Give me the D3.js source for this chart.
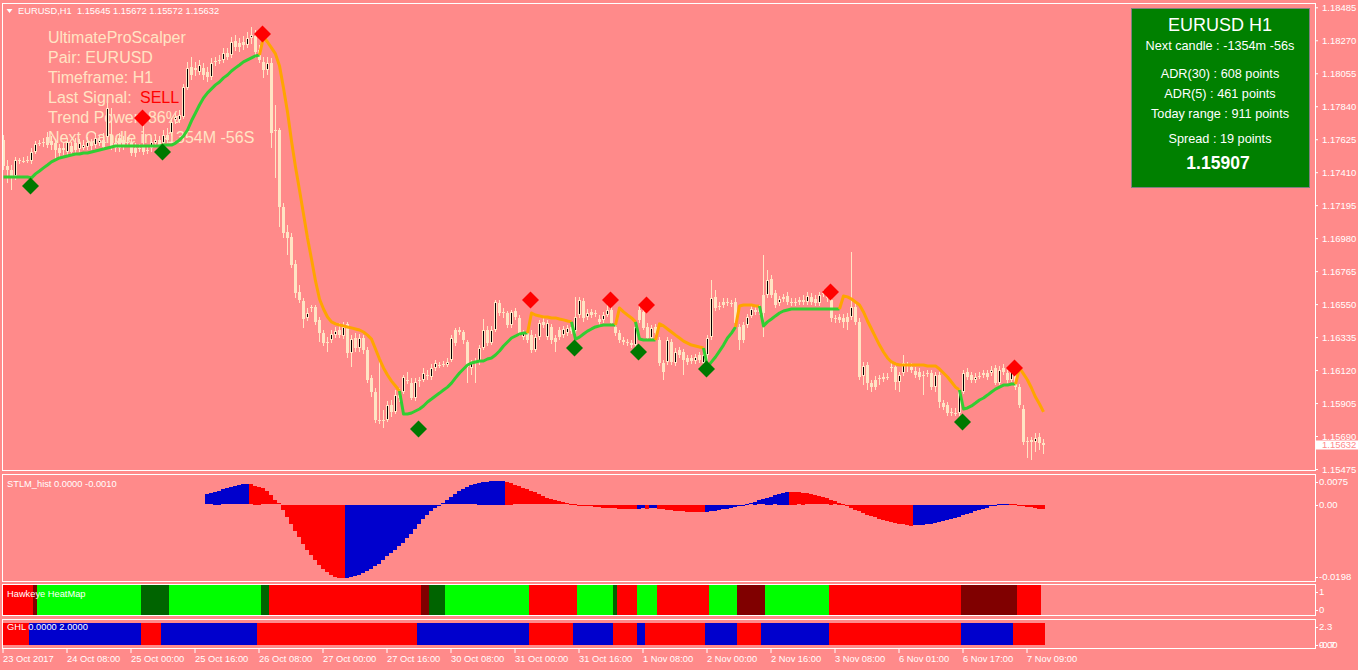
<!DOCTYPE html>
<html><head><meta charset="utf-8">
<script src="https://cdn.jsdelivr.net/npm/d3@7"></script>
<style>html,body{margin:0;padding:0;overflow:hidden;background:#ff8a8a}svg text{font-family:"Liberation Sans",Arial,sans-serif}</style>
</head><body><svg id="c" width="1358" height="670"></svg>
<script>
// ---------------- DATA ----------------
const opens=[
1.17620,1.17451,1.17425,1.17386,1.17490,1.17483,1.17483,1.17483,1.17542,1.17594,
1.17600,1.17639,1.17613,1.17600,1.17568,1.17568,1.17542,1.17581,1.17600,1.17561,
1.17568,1.17574,1.17600,1.17587,1.17600,1.17620,1.17639,1.17652,1.17600,1.17633,
1.17620,1.17607,1.17600,1.17568,1.17561,1.17574,1.17555,1.17568,1.17600,1.17620,
1.17600,1.17652,1.17665,1.17751,1.17751,1.17770,1.17959,1.18096,1.18090,1.18064,
1.18090,1.18064,1.18031,1.18129,1.18135,1.18142,1.18187,1.18174,1.18265,1.18252,
1.18259,1.18239,1.18285,1.18298,1.18207,1.18129,1.18077,1.18122,1.17678,1.17685,
1.17183,1.17020,1.16987,1.16812,1.16629,1.16570,1.16460,1.16531,1.16531,1.16447,
1.16361,1.16303,1.16316,1.16348,1.16381,1.16342,1.16421,1.16231,1.16329,1.16264,
1.16329,1.16251,1.16069,1.15977,1.15795,1.15795,1.15795,1.15892,1.15847,1.15957,
1.15977,1.16055,1.16035,1.15938,1.16055,1.16055,1.16088,1.16075,1.16134,1.16153,
1.16160,1.16153,1.16186,1.16381,1.16381,1.16368,1.16303,1.16134,1.16173,1.16173,
1.16264,1.16381,1.16296,1.16381,1.16557,1.16499,1.16492,1.16414,1.16505,1.16460,
1.16335,1.16361,1.16348,1.16251,1.16335,1.16434,1.16335,1.16401,1.16329,1.16381,
1.16348,1.16361,1.16401,1.16374,1.16479,1.16570,1.16466,1.16499,1.16492,1.16453,
1.16447,1.16479,1.16512,1.16401,1.16361,1.16316,1.16303,1.16296,1.16283,1.16512,
1.16499,1.16401,1.16329,1.16401,1.16316,1.16166,1.16173,1.16303,1.16166,1.16251,
1.16238,1.16199,1.16199,1.16179,1.16218,1.16166,1.16218,1.16335,1.16597,1.16538,
1.16564,1.16564,1.16557,1.16564,1.16401,1.16414,1.16414,1.16473,1.16512,1.16525,
1.16610,1.16610,1.16714,1.16622,1.16557,1.16583,1.16603,1.16564,1.16564,1.16564,
1.16577,1.16564,1.16597,1.16583,1.16557,1.16622,1.16622,1.16577,1.16460,1.16466,
1.16460,1.16466,1.16466,1.16531,1.16434,1.16082,1.16153,1.16035,1.16055,1.16069,
1.16062,1.16075,1.16140,1.16140,1.16042,1.16101,1.16153,1.16140,1.16114,1.16108,
1.16088,1.16101,1.16101,1.16009,1.16088,1.15905,1.15892,1.15847,1.15840,1.15840,
1.15977,1.16108,1.16088,1.16055,1.16082,1.16101,1.16101,1.16101,1.16134,1.16035,
1.16134,1.16101,1.16055,1.16101,1.16009,1.15866,1.15658,1.15664,1.15651,1.15684,
1.15645];
const highs=[
1.17652,1.17490,1.17457,1.17509,1.17503,1.17509,1.17516,1.17568,1.17613,1.17620,
1.17633,1.17672,1.17646,1.17626,1.17594,1.17607,1.17633,1.17607,1.17633,1.17626,
1.17620,1.17639,1.17626,1.17665,1.17652,1.17665,1.17861,1.17829,1.17633,1.17665,
1.17646,1.17639,1.17626,1.17600,1.17594,1.17712,1.17587,1.17633,1.17652,1.17646,
1.17685,1.17699,1.17764,1.17796,1.17816,1.17985,1.18129,1.18161,1.18129,1.18142,
1.18122,1.18096,1.18155,1.18161,1.18174,1.18220,1.18220,1.18291,1.18304,1.18285,
1.18298,1.18324,1.18357,1.18337,1.18239,1.18161,1.18161,1.18155,1.17848,1.17699,
1.17209,1.17066,1.17013,1.16838,1.16674,1.16590,1.16525,1.16544,1.16544,1.16466,
1.16381,1.16335,1.16381,1.16401,1.16427,1.16434,1.16434,1.16348,1.16361,1.16355,
1.16348,1.16270,1.16088,1.16003,1.16186,1.15860,1.15918,1.15925,1.15990,1.16003,
1.16088,1.16108,1.16069,1.16069,1.16075,1.16134,1.16121,1.16160,1.16186,1.16173,
1.16179,1.16199,1.16348,1.16394,1.16401,1.16381,1.16316,1.16186,1.16199,1.16283,
1.16453,1.16408,1.16408,1.16577,1.16577,1.16525,1.16505,1.16512,1.16525,1.16479,
1.16381,1.16381,1.16381,1.16355,1.16447,1.16460,1.16447,1.16421,1.16348,1.16401,
1.16408,1.16414,1.16421,1.16597,1.16597,1.16590,1.16518,1.16518,1.16512,1.16479,
1.16499,1.16544,1.16544,1.16427,1.16381,1.16335,1.16322,1.16316,1.16427,1.16544,
1.16525,1.16427,1.16414,1.16421,1.16335,1.16186,1.16335,1.16322,1.16264,1.16270,
1.16258,1.16218,1.16218,1.16225,1.16238,1.16238,1.16348,1.16707,1.16642,1.16564,
1.16590,1.16590,1.16577,1.16590,1.16421,1.16434,1.16486,1.16538,1.16531,1.16544,
1.16870,1.16773,1.16740,1.16642,1.16603,1.16616,1.16629,1.16590,1.16590,1.16597,
1.16610,1.16629,1.16622,1.16610,1.16629,1.16642,1.16642,1.16597,1.16479,1.16486,
1.16486,1.16492,1.16890,1.16557,1.16460,1.16173,1.16173,1.16055,1.16082,1.16088,
1.16101,1.16101,1.16173,1.16160,1.16108,1.16218,1.16173,1.16166,1.16140,1.16134,
1.16114,1.16121,1.16121,1.16108,1.16108,1.15925,1.15912,1.15873,1.15873,1.16003,
1.16121,1.16134,1.16108,1.16101,1.16108,1.16121,1.16121,1.16147,1.16153,1.16147,
1.16160,1.16121,1.16153,1.16134,1.16029,1.15892,1.15684,1.15684,1.15710,1.15710,
1.15672];
const lows=[
1.17425,1.17339,1.17294,1.17359,1.17464,1.17470,1.17470,1.17464,1.17529,1.17581,
1.17574,1.17568,1.17555,1.17490,1.17503,1.17522,1.17522,1.17516,1.17529,1.17542,
1.17555,1.17555,1.17555,1.17568,1.17581,1.17555,1.17620,1.17555,1.17542,1.17542,
1.17555,1.17574,1.17516,1.17509,1.17542,1.17522,1.17529,1.17542,1.17581,1.17561,
1.17581,1.17600,1.17646,1.17725,1.17731,1.17757,1.17946,1.18011,1.18038,1.18044,
1.18011,1.17998,1.18011,1.18103,1.18116,1.18122,1.18142,1.18155,1.18200,1.18194,
1.18207,1.18220,1.18246,1.18155,1.18122,1.18025,1.18044,1.17568,1.17373,1.17053,
1.16981,1.16870,1.16786,1.16590,1.16557,1.16395,1.16440,1.16499,1.16414,1.16303,
1.16277,1.16238,1.16296,1.16329,1.16329,1.16322,1.16199,1.16140,1.16238,1.16238,
1.16225,1.16035,1.15944,1.15775,1.15769,1.15743,1.15782,1.15814,1.15834,1.15912,
1.15964,1.16029,1.15925,1.15918,1.16009,1.16042,1.16055,1.16055,1.16114,1.16134,
1.16140,1.16140,1.16173,1.16277,1.16348,1.16290,1.16035,1.16088,1.16035,1.16153,
1.16251,1.16277,1.16283,1.16368,1.16473,1.16460,1.16395,1.16395,1.16447,1.16342,
1.16316,1.16296,1.16231,1.16238,1.16316,1.16395,1.16316,1.16290,1.16238,1.16316,
1.16329,1.16342,1.16355,1.16355,1.16460,1.16434,1.16447,1.16460,1.16466,1.16414,
1.16427,1.16466,1.16408,1.16342,1.16296,1.16283,1.16277,1.16264,1.16270,1.16427,
1.16381,1.16309,1.16309,1.16342,1.16147,1.16055,1.16153,1.16153,1.16147,1.16199,
1.16088,1.16153,1.16160,1.16160,1.16166,1.16153,1.16140,1.16316,1.16505,1.16512,
1.16525,1.16538,1.16531,1.16408,1.16251,1.16296,1.16395,1.16460,1.16479,1.16479,
1.16335,1.16590,1.16590,1.16525,1.16538,1.16564,1.16544,1.16538,1.16538,1.16544,
1.16544,1.16544,1.16544,1.16538,1.16538,1.16597,1.16564,1.16434,1.16427,1.16427,
1.16395,1.16381,1.16447,1.16414,1.16055,1.16022,1.15990,1.15977,1.15990,1.16022,
1.16042,1.16055,1.16108,1.15990,1.15977,1.16082,1.16108,1.16101,1.16069,1.16055,
1.15957,1.16075,1.15990,1.15977,1.15873,1.15860,1.15821,1.15821,1.15821,1.15821,
1.15964,1.16055,1.16035,1.16035,1.16062,1.16069,1.16055,1.16082,1.16022,1.16022,
1.16088,1.16035,1.16042,1.15990,1.15873,1.15631,1.15547,1.15534,1.15586,1.15599,
1.15572];
const closes=[
1.17451,1.17425,1.17386,1.17490,1.17483,1.17480,1.17490,1.17542,1.17594,1.17600,
1.17607,1.17587,1.17587,1.17555,1.17535,1.17555,1.17607,1.17542,1.17555,1.17600,
1.17587,1.17607,1.17581,1.17633,1.17620,1.17574,1.17829,1.17574,1.17568,1.17568,
1.17574,1.17600,1.17535,1.17535,1.17568,1.17542,1.17552,1.17607,1.17620,1.17587,
1.17652,1.17620,1.17738,1.17770,1.17783,1.17965,1.18090,1.18044,1.18077,1.18109,
1.18044,1.18031,1.18122,1.18135,1.18142,1.18187,1.18161,1.18259,1.18226,1.18226,
1.18239,1.18285,1.18304,1.18194,1.18142,1.18077,1.18122,1.17665,1.17685,1.17183,
1.17013,1.16981,1.16805,1.16622,1.16577,1.16453,1.16492,1.16525,1.16434,1.16361,
1.16296,1.16296,1.16355,1.16374,1.16348,1.16401,1.16231,1.16322,1.16264,1.16329,
1.16251,1.16055,1.15977,1.15795,1.15788,1.15792,1.15892,1.15847,1.15957,1.15938,
1.16075,1.16048,1.15938,1.16042,1.16048,1.16101,1.16082,1.16134,1.16166,1.16150,
1.16157,1.16173,1.16329,1.16296,1.16368,1.16316,1.16140,1.16166,1.16170,1.16264,
1.16381,1.16296,1.16381,1.16564,1.16492,1.16492,1.16414,1.16499,1.16466,1.16361,
1.16361,1.16316,1.16251,1.16335,1.16427,1.16414,1.16427,1.16316,1.16303,1.16335,
1.16388,1.16395,1.16374,1.16466,1.16577,1.16460,1.16492,1.16479,1.16486,1.16434,
1.16479,1.16512,1.16427,1.16361,1.16316,1.16303,1.16296,1.16283,1.16401,1.16447,
1.16395,1.16329,1.16395,1.16361,1.16166,1.16108,1.16316,1.16173,1.16238,1.16218,
1.16186,1.16173,1.16179,1.16205,1.16186,1.16218,1.16329,1.16590,1.16525,1.16535,
1.16544,1.16557,1.16551,1.16427,1.16316,1.16316,1.16466,1.16518,1.16499,1.16499,
1.16492,1.16707,1.16610,1.16544,1.16583,1.16597,1.16564,1.16557,1.16557,1.16577,
1.16564,1.16603,1.16564,1.16557,1.16610,1.16616,1.16590,1.16460,1.16453,1.16447,
1.16434,1.16434,1.16531,1.16434,1.16075,1.16147,1.16035,1.16009,1.16009,1.16062,
1.16075,1.16072,1.16137,1.16042,1.16088,1.16166,1.16150,1.16121,1.16088,1.16075,
1.16085,1.16098,1.16009,1.16088,1.15912,1.15879,1.15840,1.15840,1.15837,1.15977,
1.16101,1.16075,1.16055,1.16075,1.16079,1.16088,1.16075,1.16121,1.16035,1.16121,
1.16108,1.16055,1.16134,1.16009,1.15892,1.15651,1.15648,1.15651,1.15677,1.15645,
1.15632];
// UltimateProScalper trend line (one value per bar) and its direction runs (1 = up/green, -1 = down/orange)
const trendLine=[
1.17379,1.17379,1.17379,1.17379,1.17379,1.17379,1.17379,1.17373,1.17399,1.17418,
1.17438,1.17457,1.17477,1.17490,1.17503,1.17509,1.17516,1.17522,1.17529,1.17529,
1.17535,1.17535,1.17542,1.17548,1.17555,1.17561,1.17568,1.17574,1.17581,1.17581,
1.17581,1.17581,1.17581,1.17581,1.17581,1.17581,1.17581,1.17581,1.17581,1.17581,
1.17587,1.17587,1.17587,1.17600,1.17620,1.17646,1.17685,1.17745,1.17796,1.17848,
1.17894,1.17927,1.17953,1.17979,1.17998,1.18025,1.18044,1.18070,1.18090,1.18109,
1.18129,1.18142,1.18155,1.18168,1.18174,1.18291,1.18259,1.18220,1.18181,1.18103,
1.17959,1.17803,1.17613,1.17444,1.17294,1.17138,1.16981,1.16844,1.16701,1.16583,
1.16518,1.16466,1.16434,1.16421,1.16414,1.16408,1.16401,1.16395,1.16388,1.16381,
1.16368,1.16348,1.16322,1.16257,1.16192,1.16134,1.16088,1.16048,1.16016,1.15984,
1.15834,1.15834,1.15840,1.15853,1.15866,1.15886,1.15912,1.15931,1.15951,1.15970,
1.15990,1.16009,1.16035,1.16069,1.16101,1.16127,1.16153,1.16166,1.16173,1.16179,
1.16179,1.16192,1.16199,1.16218,1.16244,1.16277,1.16303,1.16329,1.16342,1.16355,
1.16361,1.16361,1.16492,1.16479,1.16473,1.16466,1.16466,1.16460,1.16460,1.16453,
1.16447,1.16440,1.16434,1.16322,1.16335,1.16355,1.16374,1.16388,1.16401,1.16408,
1.16414,1.16414,1.16414,1.16414,1.16525,1.16499,1.16479,1.16460,1.16434,1.16322,
1.16316,1.16316,1.16316,1.16316,1.16421,1.16408,1.16388,1.16368,1.16348,1.16329,
1.16309,1.16296,1.16283,1.16277,1.16270,1.16264,1.16140,1.16173,1.16205,1.16244,
1.16283,1.16329,1.16361,1.16401,1.16538,1.16544,1.16544,1.16544,1.16538,1.16538,
1.16408,1.16434,1.16453,1.16473,1.16492,1.16505,1.16512,1.16518,1.16518,1.16518,
1.16518,1.16518,1.16518,1.16518,1.16518,1.16518,1.16518,1.16518,1.16518,1.16518,
1.16603,1.16597,1.16583,1.16564,1.16544,1.16499,1.16440,1.16388,1.16335,1.16283,
1.16238,1.16199,1.16173,1.16160,1.16153,1.16153,1.16153,1.16153,1.16153,1.16153,
1.16153,1.16147,1.16147,1.16147,1.16127,1.16101,1.16075,1.16042,1.16009,1.15990,
1.15866,1.15873,1.15886,1.15905,1.15925,1.15938,1.15957,1.15977,1.15996,1.16009,
1.16022,1.16022,1.16029,1.16029,1.16134,1.16095,1.16055,1.16003,1.15944,1.15899,
1.15847];
const trendRuns=[[1,65],[-1,35],[1,32],[-1,11],[1,11],[-1,5],[1,5],[-1,12],[1,8],[-1,6],[1,20],[-1,30],[1,14],[-1,7]];
// signal diamonds
const signalBars=[7,35,40,65,104,132,143,152,159,161,176,207,240,253];
const signalTypes=["buy","sell","buy","sell","buy","sell","buy","sell","buy","sell","buy","sell","buy","sell"];
const signalPrices=[1.17320,1.17764,1.17542,1.18311,1.15736,1.16577,1.16264,1.16577,1.16238,1.16544,1.16127,1.16629,1.15782,1.16134];
// STLM_hist from bar 51
const stlmStart=51;
const stlmValues=[
0.00283,0.00302,0.00345,0.00372,0.00410,0.00437,0.00464,0.00499,0.00526,0.00545,
0.00553,0.00550,0.00507,0.00480,0.00437,0.00364,0.00256,0.00121,0.00032,-0.00148,
-0.00329,-0.00507,-0.00688,-0.00869,-0.01047,-0.01209,-0.01362,-0.01497,-0.01613,-0.01721,
-0.01813,-0.01883,-0.01929,-0.01956,-0.01975,-0.01970,-0.01948,-0.01921,-0.01883,-0.01840,
-0.01786,-0.01732,-0.01659,-0.01586,-0.01478,-0.01389,-0.01300,-0.01227,-0.01119,-0.01012,
-0.00877,-0.00769,-0.00634,-0.00526,-0.00391,-0.00283,-0.00175,-0.00094,-0.00027,0.00040,
0.00121,0.00202,0.00283,0.00364,0.00418,0.00472,0.00526,0.00553,0.00580,0.00607,
0.00620,0.00634,0.00636,0.00638,0.00640,0.00620,0.00580,0.00526,0.00499,0.00445,
0.00418,0.00364,0.00337,0.00283,0.00229,0.00175,0.00148,0.00121,0.00094,0.00067,
0.00040,0.00027,0.00013,0.00000,-0.00013,-0.00027,-0.00040,-0.00050,-0.00060,-0.00068,
-0.00076,-0.00083,-0.00090,-0.00095,-0.00100,-0.00104,-0.00107,-0.00110,-0.00100,-0.00090,
-0.00095,-0.00088,-0.00082,-0.00095,-0.00110,-0.00125,-0.00138,-0.00150,-0.00160,-0.00170,
-0.00178,-0.00185,-0.00190,-0.00194,-0.00196,-0.00190,-0.00175,-0.00160,-0.00140,-0.00120,
-0.00098,-0.00075,-0.00052,-0.00030,-0.00010,0.00010,0.00040,0.00075,0.00110,0.00145,
0.00180,0.00215,0.00250,0.00285,0.00320,0.00350,0.00345,0.00338,0.00328,0.00314,
0.00297,0.00277,0.00254,0.00228,0.00199,0.00167,0.00132,0.00094,0.00053,0.00010,
-0.00035,-0.00081,-0.00127,-0.00172,-0.00215,-0.00257,-0.00297,-0.00334,-0.00368,-0.00400,
-0.00430,-0.00458,-0.00483,-0.00506,-0.00526,-0.00543,-0.00556,-0.00553,-0.00546,-0.00536,
-0.00522,-0.00505,-0.00485,-0.00462,-0.00437,-0.00410,-0.00381,-0.00350,-0.00317,-0.00282,
-0.00246,-0.00209,-0.00172,-0.00136,-0.00101,-0.00068,-0.00038,-0.00012,0.00008,0.00020,
0.00026,0.00018,0.00005,-0.00012,-0.00030,-0.00048,-0.00066,-0.00082,-0.00098,-0.00115];
const stlmColorRuns=[["b",11],["r",24],["b",40],["r",33],["b",2],["r",1],["b",2],["r",12],["b",21],["r",31],["b",24],["r",9]];
// Hawkeye HeatMap states per bar (r red, m maroon, l lime, g dark green)
const heatRuns=[["r",8],["m",1],["l",26],["g",7],["l",23],["g",2],["r",38],["m",2],["g",4],["l",21],["r",12],["l",9],["g",1],["r",5],["l",5],["r",13],["l",7],["m",7],["l",16],["r",33],["m",14],["r",6]];
// GHL states per bar (r red, b blue)
const ghlRuns=[["r",7],["b",28],["r",5],["b",24],["r",40],["b",28],["r",11],["b",10],["r",6],["b",2],["r",15],["b",8],["r",6],["b",17],["r",33],["b",13],["r",8]];
// axes
const priceTicks=[1.18485,1.18270,1.18055,1.17840,1.17625,1.17410,1.17195,1.16980,1.16765,1.16550,1.16335,1.16120,1.15905,1.15690,1.15475];
const timeTickBars=[0,16,32,48,64,80,96,112,128,144,160,176,192,208,224,240,256];
const timeTickLabels=["23 Oct 2017","24 Oct 08:00","25 Oct 00:00","25 Oct 16:00","26 Oct 08:00","27 Oct 00:00","27 Oct 16:00","30 Oct 08:00","31 Oct 00:00","31 Oct 16:00","1 Nov 08:00","2 Nov 00:00","2 Nov 16:00","3 Nov 08:00","6 Nov 01:00","6 Nov 17:00","7 Nov 09:00"];
const infoLines=["Next candle : -1354m -56s","ADR(30) : 608 points","ADR(5) : 461 points","Today range : 911 points","Spread : 19 points"];
const overlayLines=["UltimateProScalper","Pair: EURUSD","Timeframe: H1","Last Signal:","Trend Power: 86%","Next Candle in: -1354M -56S"];

// ---------------- DRAW ----------------
const BG="#ff8a8a", CREAM="#ffe4c4", WHITE="#ffffff";
const BLUE="#0000cd", RED="#ff0000";
const svg=d3.select("#c");
svg.append("rect").attr("width",1358).attr("height",670).attr("fill",BG);
const N=closes.length;
const L=3,R=1315;
const P={main:[3,471],stlm:[474,582],heat:[584,616],ghl:[619,649]};
const x=d3.scaleBand().domain(d3.range(N)).range([1,1+4*N]).padding(0);
const cx=i=>x(i)+2.5;
const yM=d3.scaleLinear().domain([1.15462,1.18513]).range([471,3]);
const yS=d3.scaleLinear().domain([-0.0198,0.0075]).range([577.9,476.7]);
const yH=d3.scaleLinear().domain([0,1]).range([615,585]);
const yG=d3.scaleLinear().domain([0,2]).range([645,622.7]);
const expand=runs=>{const a=[];runs.forEach(([s,n])=>{for(let k=0;k<n;k++)a.push(s);});return a;};

const defs=svg.append("defs");
Object.entries(P).forEach(([k,[t,b]])=>{
  defs.append("clipPath").attr("id","clip-"+k).append("rect").attr("x",L).attr("y",t).attr("width",R-L).attr("height",b-t);
});

// overlay text (background object)
const ov=svg.append("g").attr("fill",CREAM).attr("font-size","16px");
overlayLines.forEach((s,k)=>ov.append("text").attr("x",48).attr("y",37+20*k).attr("dy","0.35em").text(s));
ov.append("text").attr("x",140).attr("y",97).attr("dy","0.35em").attr("fill",RED).text("SELL");

// candles
const cg=svg.append("g").attr("clip-path","url(#clip-main)").attr("shape-rendering","crispEdges");
const idx=d3.range(N);
cg.selectAll("rect.w").data(idx).join("rect").attr("class","w")
  .attr("x",i=>x(i)+2).attr("width",1)
  .attr("y",i=>Math.round(yM(highs[i])))
  .attr("height",i=>Math.max(1,Math.round(yM(lows[i]))-Math.round(yM(highs[i]))))
  .attr("fill",CREAM);
const bt=i=>Math.round(yM(Math.max(opens[i],closes[i])));
const bb=i=>Math.round(yM(Math.min(opens[i],closes[i])));
cg.selectAll("rect.b").data(idx).join("rect").attr("class","b")
  .attr("x",i=>x(i)+1).attr("width",3)
  .attr("y",bt).attr("height",i=>Math.max(1,bb(i)-bt(i)))
  .attr("fill",CREAM);
cg.selectAll("rect.k").data(idx.filter(i=>closes[i]>opens[i]&&bb(i)-bt(i)>2)).join("rect").attr("class","k")
  .attr("x",i=>x(i)+2).attr("width",1)
  .attr("y",i=>bt(i)+1).attr("height",i=>bb(i)-bt(i)-2)
  .attr("fill","#000");

// trend line
const trend=expand(trendRuns);
const lg=svg.append("g").attr("clip-path","url(#clip-main)");
const line=d3.line().x(cx).y(i=>yM(trendLine[i]));
let s=0;
while(s<N){let e=s;while(e+1<N&&trend[e+1]===trend[s])e++;
  lg.append("path").attr("d",line(d3.range(Math.max(0,s-1),e+1))).attr("fill","none")
    .attr("stroke",trend[s]>0?"#32cd32":"#ffa500").attr("stroke-width",3).attr("stroke-linejoin","round");
  s=e+1;}

// signals
const dg=svg.append("g").attr("clip-path","url(#clip-main)");
dg.selectAll("path").data(signalBars.map((b,k)=>k)).join("path")
  .attr("d","M0,-8.5L8.5,0L0,8.5L-8.5,0Z")
  .attr("transform",k=>`translate(${cx(signalBars[k])-1},${yM(signalPrices[k])})`)
  .attr("fill",k=>signalTypes[k]==="buy"?"#007800":"#ff0000");

// STLM histogram
const sg=svg.append("g").attr("clip-path","url(#clip-stlm)").attr("shape-rendering","crispEdges");
const stlmCols=expand(stlmColorRuns);
sg.selectAll("rect").data(stlmValues.map((v,k)=>k)).join("rect")
  .attr("x",k=>x(stlmStart+k)).attr("width",4)
  .attr("y",k=>Math.round(Math.min(yS(0),yS(stlmValues[k]))))
  .attr("height",k=>Math.max(1,Math.round(Math.abs(yS(stlmValues[k])-yS(0)))))
  .attr("fill",k=>stlmCols[k]==="b"?BLUE:RED);

// Heat map
const heat=expand(heatRuns);
const hcol={r:RED,m:"#800000",l:"#00ff00",g:"#006400"};
svg.append("g").attr("clip-path","url(#clip-heat)").attr("shape-rendering","crispEdges")
  .selectAll("rect").data(heat.map((h,i)=>i)).join("rect")
  .attr("x",i=>x(i)).attr("width",4).attr("y",yH(1)).attr("height",yH(0)-yH(1))
  .attr("fill",i=>hcol[heat[i]]);

// GHL
const ghl=expand(ghlRuns);
svg.append("g").attr("clip-path","url(#clip-ghl)").attr("shape-rendering","crispEdges")
  .selectAll("rect").data(ghl.map((h,i)=>i)).join("rect")
  .attr("x",i=>x(i)).attr("width",4).attr("y",yG(2)).attr("height",yG(0)-yG(2))
  .attr("fill",i=>ghl[i]==="b"?BLUE:RED);

// panel borders
const bg=svg.append("g").attr("fill","none").attr("stroke",WHITE).attr("stroke-width",1).attr("shape-rendering","crispEdges");
Object.values(P).forEach(([t,b])=>bg.append("rect").attr("x",L-0.5).attr("y",t+0.5).attr("width",R-L+0.5).attr("height",b-t-1));

// price axis
const ax=svg.append("g").attr("transform",`translate(${R},0)`)
  .call(d3.axisRight(yM).tickValues(priceTicks).tickSize(3).tickPadding(4).tickFormat(d3.format(".5f")));
ax.select(".domain").remove();
ax.selectAll("line").attr("stroke",WHITE);
ax.selectAll("text").attr("fill",WHITE).attr("font-size","9.5px").attr("font-family","Liberation Sans, Arial, sans-serif");

// current price box
svg.append("rect").attr("x",1316).attr("y",Math.round(yM(closes[N-1]))-4.5).attr("width",42).attr("height",9).attr("fill",WHITE);
svg.append("text").attr("x",1322).attr("y",yM(closes[N-1])).attr("dy","0.35em").attr("fill",BG).attr("font-size","9.5px").text(d3.format(".5f")(closes[N-1]));

// sub-panel labels
function subLabels(scale,vals,texts,t,b){
  vals.forEach((v,k)=>{
    const yy=Math.max(t+7.5,Math.min(b-5,scale(v)));
    svg.append("line").attr("x1",R).attr("x2",R+3).attr("y1",Math.round(yy)+0.5).attr("y2",Math.round(yy)+0.5).attr("stroke",WHITE);
    svg.append("text").attr("x",R+4).attr("y",yy).attr("dy","0.35em").attr("fill",WHITE).attr("font-size","9.5px").text(texts[k]);
  });
}
subLabels(yS,[0.0075,0,-0.0198],["0.0075","0.00","-0.0198"],P.stlm[0],P.stlm[1]);
subLabels(yH,[1,0],["1","0"],P.heat[0],P.heat[1]-1);
subLabels(yG,[2.3,-0.7,0],["2.3","-0.7","0.00"],P.ghl[0],P.ghl[1]+1);

// time axis
const tx=svg.append("g").attr("transform",`translate(0,${P.ghl[1]})`)
  .call(d3.axisBottom(x).tickValues(timeTickBars).tickSize(4).tickPadding(2).tickFormat((d,k)=>timeTickLabels[k]));
tx.select(".domain").remove();
tx.selectAll("line").attr("stroke",WHITE);
tx.selectAll("text").attr("fill",WHITE).attr("font-size","9.3px").attr("text-anchor","start").attr("x",0)
  .attr("font-family","Liberation Sans, Arial, sans-serif");

// panel titles
const tt=svg.append("g").attr("fill",WHITE).attr("font-size","9.3px");
tt.append("text").attr("x",7).attr("y",483.5).attr("dy","0.35em").text("STLM_hist 0.0000 -0.0010");
tt.append("text").attr("x",7).attr("y",594).attr("dy","0.35em").text("Hawkeye HeatMap");
tt.append("text").attr("x",7).attr("y",627).attr("dy","0.35em").text("GHL 0.0000 2.0000");
// header
svg.append("path").attr("d","M6.5,9L12.5,9L9.5,13Z").attr("fill",WHITE);
svg.append("text").attr("x",18).attr("y",11).attr("dy","0.35em").attr("fill",WHITE).attr("font-size","9.3px")
  .attr("xml:space","preserve").text("EURUSD,H1  "+[opens[N-1],highs[N-1],lows[N-1],closes[N-1]].map(d3.format(".5f")).join(" "));

// info box
const ib=svg.append("g");
ib.append("rect").attr("x",1131.5).attr("y",8.5).attr("width",178).attr("height",179).attr("fill","#008000").attr("stroke","#7f7f7f");
ib.append("text").attr("x",1220).attr("y",25).attr("dy","0.35em").attr("text-anchor","middle").attr("fill",WHITE).attr("font-size","18px").text("EURUSD H1");
const iy=[46,74,94,114,139];
infoLines.forEach((s,k)=>ib.append("text").attr("x",1220).attr("y",iy[k]).attr("dy","0.35em").attr("text-anchor","middle").attr("fill",WHITE).attr("font-size","12.7px").text(s));
ib.append("text").attr("x",1218).attr("y",163).attr("dy","0.35em").attr("text-anchor","middle").attr("fill",WHITE).attr("font-size","17.5px").attr("font-weight","bold").text("1.15907");
</script></body></html>
